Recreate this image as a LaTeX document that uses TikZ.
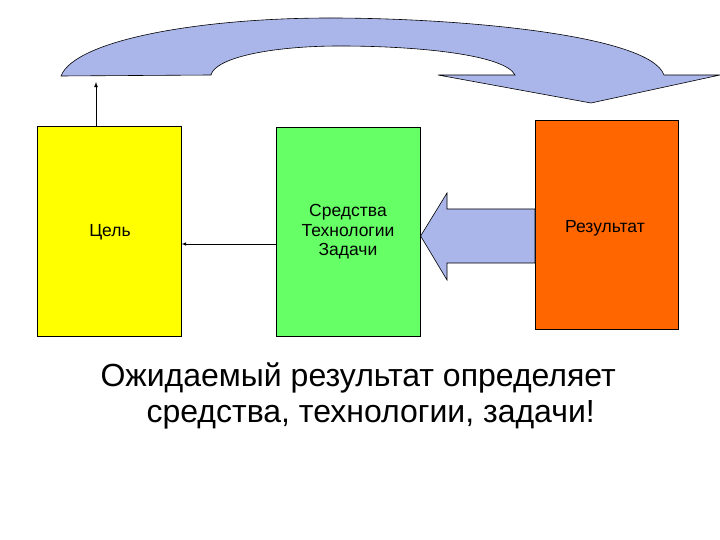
\documentclass[tikz,border=0pt]{standalone}
\usepackage{fontspec}
\setmainfont{Liberation Sans}
\begin{document}
\begin{tikzpicture}[x=1pt,y=-1pt,
  box/.style={draw=black,line width=0.6pt},
  lbl/.style={font=\fontsize{17.5}{19.5}\selectfont,align=center},
  big/.style={font=\fontsize{32}{36}\selectfont,anchor=west}]
\useasboundingbox (0,0) rectangle (720,540);
\fill[white] (0,0) rectangle (720,540);
\node[box,fill={rgb,255:red,255;green,255;blue,0},minimum width=144pt,minimum height=210pt,anchor=north west] (c) at (37,126) {};
\node[box,fill={rgb,255:red,102;green,255;blue,102},minimum width=144pt,minimum height=209pt,anchor=north west] (s) at (276,127) {};
\node[box,fill={rgb,255:red,255;green,102;blue,0},minimum width=143pt,minimum height=209pt,anchor=north west] (r) at (535,120) {};
\node[lbl] at (110,232) {Цель};
\node[lbl] at (348,232) {Средства\\Технологии\\Задачи};
\node[lbl] at (605,228) {Результат};
\coordinate (up) at (96,82);
\draw[-latex,line width=0.8pt] (c.north -| up) -- (up);
\draw[-latex,line width=0.6pt] (s.west |- 0,244) -- (c.east |- 0,244);
\draw[fill={rgb,255:red,170;green,182;blue,234},line width=0.6pt]
  (r.west |- 0,209) -- (447,209) -- (447,193) -- (s.east |- 0,236) -- (447,280) -- (447,263) -- (r.west |- 0,263) -- cycle;
\draw[fill={rgb,255:red,170;green,182;blue,234},line width=0.6pt]
  (61,76) .. controls (75,40) and (200,18) .. (330,18)
  .. controls (460,18) and (650,35) .. (664,75)
  -- (720,75) -- (591,103) -- (438,75) -- (515,75)
  .. controls (505,55) and (420,46) .. (340,46)
  .. controls (270,46) and (215,58) .. (211,75) -- cycle;
\node[big] (t1) at (97,378) {Ожидаемый результат определяет};
\node[big] (t2) at (143,415) {средства, технологии, задачи!};
\end{tikzpicture}
\end{document}
